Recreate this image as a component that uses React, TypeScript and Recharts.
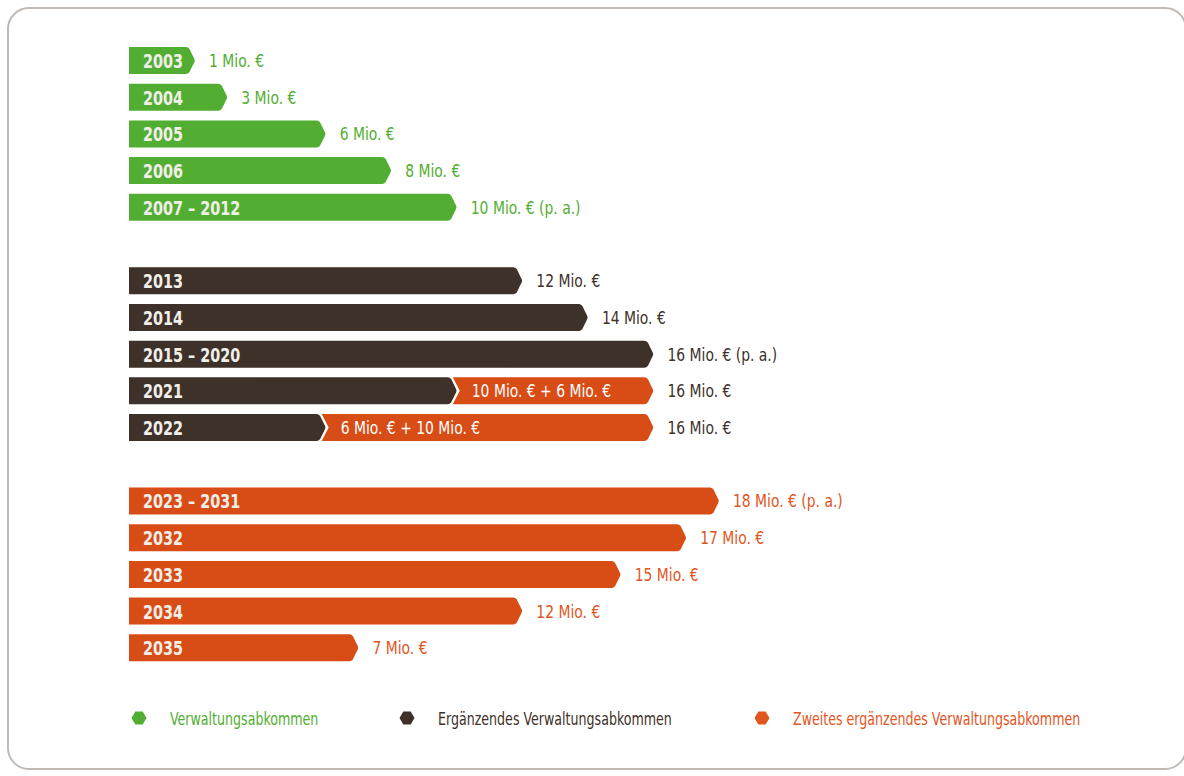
import { BarChart, Bar, XAxis, YAxis, Legend } from 'recharts';

// rows in order, blank entries are the gaps between the three agreements
const categories = [
  '2003', '2004', '2005', '2006', '2007 – 2012', '',
  '2013', '2014', '2015 – 2020', '2021', '2022', '',
  '2023 – 2031', '2032', '2033', '2034', '2035',
];
const verwaltung = [1, 3, 6, 8, 10, 0, 0, 0, 0, 0, 0, 0, 0, 0, 0, 0, 0];
const ergaenzend = [0, 0, 0, 0, 0, 0, 12, 14, 16, 10, 6, 0, 0, 0, 0, 0, 0];
const zweites = [0, 0, 0, 0, 0, 0, 0, 0, 0, 6, 10, 0, 18, 17, 15, 12, 7];
const suffixes = ['', '', '', '', ' (p. a.)', '', '', '', ' (p. a.)', '', '', '', ' (p. a.)', '', '', '', ''];
const splitLabels = ['', '', '', '', '', '', '', '', '', '10 Mio. € + 6 Mio. €', '6 Mio. € + 10 Mio. €', '', '', '', '', '', ''];
const seriesNames = ['Verwaltungsabkommen', 'Ergänzendes Verwaltungsabkommen', 'Zweites ergänzendes Verwaltungsabkommen'];

const GREEN = '#52ae32';
const DARK = '#3e3129';
const ORANGE = '#d84c16';
const ORANGE_TEXT = '#e0561f';
const FONT = '"DejaVu Sans Condensed", "Liberation Sans", sans-serif';
const TIP = 7;
const MIN_W = 66;

const data = categories.map((year, i) => ({
  year,
  v1: verwaltung[i],
  v2: ergaenzend[i],
  v3: zweites[i],
  total: verwaltung[i] + ergaenzend[i] + zweites[i],
  suffix: suffixes[i],
  split: splitLabels[i],
}));

function arrowPath(x: number, y: number, xe: number, h: number, notch: boolean) {
  const ym = y + h / 2;
  const yb = y + h;
  const xl = notch ? x - TIP + 3 : x;
  return (
    `M ${xl} ${y} H ${xe - TIP - 2} Q ${xe - TIP} ${y} ${xe - TIP + 1.5} ${y + 2} ` +
    `L ${xe - 0.6} ${ym - 1.5} Q ${xe} ${ym} ${xe - 0.6} ${ym + 1.5} ` +
    `L ${xe - TIP + 1.5} ${yb - 2} Q ${xe - TIP} ${yb} ${xe - TIP - 2} ${yb} ` +
    (notch ? `H ${xl} L ${x + 3} ${ym} Z` : `H ${x} Z`)
  );
}

// condensed text: the original face is a narrow one, so squeeze horizontally
function Narrow({ x, y, sx, children, ...rest }: any) {
  return (
    <text transform={`translate(${x} ${y}) scale(${sx} 1)`} fontFamily={FONT} {...rest}>
      {children}
    </text>
  );
}

function makeShape(key: 'v1' | 'v2' | 'v3', fill: string) {
  return (props: any) => {
    const { x, y, width, height, payload } = props;
    if (!payload || !payload[key] || width <= 0) return <g />;
    const first = key === 'v1' || key === 'v2' || (key === 'v3' && !payload.v2);
    const notch = key === 'v3' && payload.v2 > 0;
    const outer = key === 'v3' || (key === 'v2' && !payload.v3) || (key === 'v1' && !payload.v2 && !payload.v3);
    const w = first && outer ? Math.max(width, MIN_W) : width;
    const xe = x + w;
    const ym = y + height / 2;
    const labelColor = payload.v2 ? DARK : payload.v3 ? ORANGE_TEXT : GREEN;
    return (
      <g>
        <path d={arrowPath(x, y, xe, height, notch)} fill={fill} />
        {first && (
          <Narrow x={x + 14} y={ym + 7.5} sx={0.8} fill="#f2efea" fontWeight={700} fontSize={20}>
            {payload.year}
          </Narrow>
        )}
        {notch && payload.split && (
          <Narrow x={x + 15} y={ym + 6.5} sx={0.86} fill="#ffffff" fontSize={18}>
            {payload.split}
          </Narrow>
        )}
        {outer && (
          <Narrow x={xe + 14} y={ym + 6.5} sx={0.86} fill={labelColor} fontSize={18}>
            {`${payload.total} Mio. €${payload.suffix}`}
          </Narrow>
        )}
      </g>
    );
  };
}

function Hexagon({ color }: { color: string }) {
  return (
    <svg width={16} height={14} style={{ display: 'block' }}>
      <polygon points="0.5,7 4.3,0.5 11.7,0.5 15.5,7 11.7,13.5 4.3,13.5" fill={color} />
    </svg>
  );
}

const legendColors = [GREEN, DARK, ORANGE_TEXT];
const legendMarkerX = [131, 399, 754];

function renderLegend() {
  return (
    <div style={{ position: 'relative', width: 1184, height: 30 }}>
      {seriesNames.map((name, i) => (
        <div
          key={name}
          style={{ position: 'absolute', left: legendMarkerX[i], top: 0, display: 'flex', alignItems: 'center', height: 30 }}
        >
          <Hexagon color={legendColors[i]} />
          <span
            style={{
              marginLeft: 23,
              color: legendColors[i],
              fontFamily: FONT,
              fontSize: 18,
              whiteSpace: 'nowrap',
              display: 'inline-block',
              transform: 'scaleX(0.78)',
              transformOrigin: 'left center',
            }}
          >
            {name}
          </span>
        </div>
      ))}
    </div>
  );
}

export default function App() {
  return (
    <div style={{ position: 'fixed', left: 0, top: 0, width: 1184, height: 776, overflow: 'hidden', background: '#fff' }}>
      <div
        style={{
          position: 'absolute',
          left: 7,
          top: 7,
          width: 1180,
          height: 763,
          boxSizing: 'border-box',
          border: '2px solid #c0b9b4',
          borderRadius: 22,
        }}
      />
      <div style={{ position: 'absolute', left: 0, top: 0 }}>
        <BarChart
          width={1184}
          height={776}
          data={data}
          layout="vertical"
          margin={{ top: 42, right: 465, bottom: 80, left: 129 }}
          barSize={27}
        >
          <XAxis type="number" domain={[0, 18]} hide />
          <YAxis type="category" dataKey="year" hide />
          <Legend
            content={renderLegend}
            wrapperStyle={{ position: 'absolute', left: 0, top: 703, width: 1184 }}
          />
          <Bar dataKey="v1" stackId="a" fill={GREEN} name={seriesNames[0]} isAnimationActive={false} shape={makeShape('v1', GREEN)} />
          <Bar dataKey="v2" stackId="a" fill={DARK} name={seriesNames[1]} isAnimationActive={false} shape={makeShape('v2', DARK)} />
          <Bar dataKey="v3" stackId="a" fill={ORANGE} name={seriesNames[2]} isAnimationActive={false} shape={makeShape('v3', ORANGE)} />
        </BarChart>
      </div>
    </div>
  );
}
